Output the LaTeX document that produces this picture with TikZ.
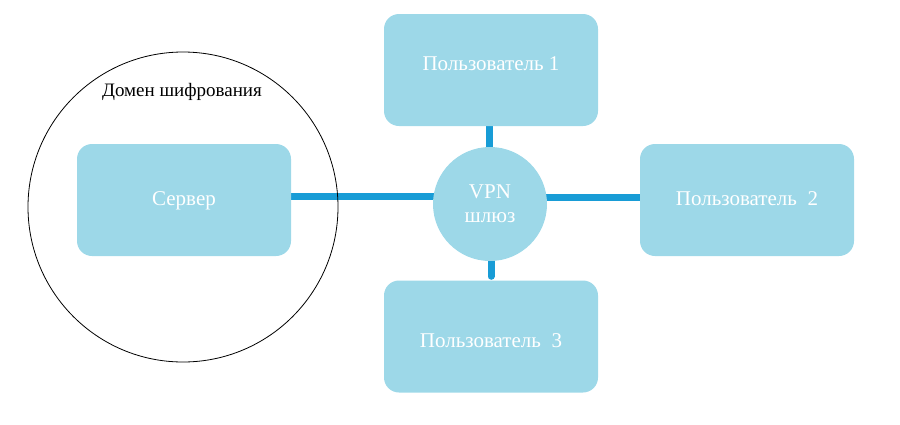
\documentclass[tikz,border=0pt]{standalone}
\usepackage{fontspec}
\setmainfont{Liberation Serif}
\usetikzlibrary{backgrounds}
\definecolor{boxfill}{RGB}{157,216,232}
\definecolor{linkblue}{RGB}{24,156,214}
\tikzset{
  ubox/.style={fill=boxfill, draw=none, rounded corners=15pt, minimum width=214pt, minimum height=112pt, text=white, font=\fontsize{21pt}{24pt}\selectfont, inner sep=0pt, text height=14pt, text depth=4pt},
  hub/.style={circle, fill=boxfill, draw=none, minimum size=114pt, inner sep=0pt, text=white, font=\fontsize{21pt}{24pt}\selectfont, align=center},
  conn/.style={draw=linkblue, line width=7pt, line cap=round},
  domcircle/.style={circle, draw=black, line width=0.8pt, minimum size=310pt, inner sep=0pt}
}
\begin{document}
\begin{tikzpicture}[x=1pt,y=-1pt]
\useasboundingbox (0,0) rectangle (900,424);
\node[domcircle] (dom) at (183,207) {};
\node[font=\fontsize{19pt}{22pt}\selectfont, text=black] (domlabel) at (182,92) {Домен шифрования};
\node[ubox] (server) at (184,200) {Сервер};
\node[ubox] (u1) at (491,70) {\raisebox{5pt}{Пользователь 1}};
\node[ubox] (u2) at (747,200) {Пользователь\ \ 2};
\node[ubox] (u3) at (491,336.5) {\raisebox{-5.5pt}{Пользователь\ \ 3}};
\node[hub] (vpn) at (490,204) {VPN\\шлюз};
\coordinate (hl) at (0,196);
\coordinate (hr) at (0,197);
\coordinate (vt) at (489,0);
\coordinate (vb) at (491,0);
\begin{pgfonlayer}{background}
\draw[conn, shorten <=-3.5pt] (server.east |- hl) -- (vpn.center |- hl);
\draw[conn] (vpn.center |- hr) -- (u2.west |- hr);
\draw[conn] (vt |- u1.south) -- (vt |- vpn.center);
\draw[conn, shorten >=4pt] (vb |- vpn.center) -- (vb |- u3.north);
\end{pgfonlayer}
\end{tikzpicture}
\end{document}
